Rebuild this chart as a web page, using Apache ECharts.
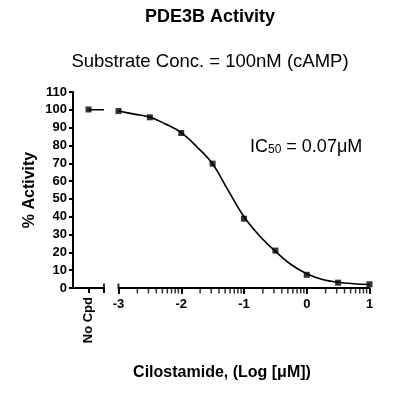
<!DOCTYPE html>
<html>
<head>
<meta charset="utf-8">
<script src="https://cdn.jsdelivr.net/npm/echarts@6/dist/echarts.min.js"></script>
<style>html,body{margin:0;padding:0;background:#fff}#c{width:408px;height:399px}</style>
</head>
<body>
<div id="c"></div>
<script>
// ---- data ----
const titleText = 'PDE3B Activity';
const subtitleText = 'Substrate Conc. = 100nM (cAMP)';
const yAxisTitle = '% Activity';
const xAxisTitle = 'Cilostamide, (Log [\u03bcM])';
const controlLabel = 'No Cpd';
const controlValue = 100.2;          // "No Cpd" point
const controlPlateau = 100;          // fitted curve plateau carried into the control segment
const logConc = [-3, -2.5, -2, -1.5, -1, -0.5, 0, 0.5, 1];
const activity = [99.3, 95.8, 87.0, 69.8, 38.9, 21.0, 7.4, 3.0, 2.1];
const curveX = [-3, -2.75, -2.5, -2.25, -2, -1.75, -1.5, -1.25, -1, -0.75, -0.5, -0.25, 0, 0.25, 0.5, 0.75, 1];
const curveY = [99.3, 97.6, 95.9, 92.0, 87.2, 79.2, 69.6, 54.6, 40.0, 29.2, 20.6, 13.2, 8.0, 4.8, 3.2, 2.4, 2.0];
const xTicks = [-3, -2, -1, 0, 1];
const yMax = 110, yStep = 10;
const minorMultipliers = [2, 3, 4, 5, 6, 7, 8, 9];

// ---- derived ----
const minorTicks = [];
for (let d = -3; d < 1; d++) for (const m of minorMultipliers) minorTicks.push(d + Math.log10(m));

const FONT = 'Arial, "Liberation Sans", sans-serif';
const chart = echarts.init(document.getElementById('c'), null, {renderer: 'canvas'});

const plotTop = 92, plotBottom = 111;
const lineStyle = {color: '#000', width: 2};

const option = {
  animation: false,
  backgroundColor: '#fff',
  title: [
    {text: titleText, left: 210, top: 8, textAlign: 'center', padding: 0,
     textStyle: {fontFamily: FONT, fontSize: 18, fontWeight: 'bold', color: '#000'}},
    {text: subtitleText, left: 210, top: 52, textAlign: 'center', padding: 0,
     textStyle: {fontFamily: FONT, fontSize: 18.5, fontWeight: 'normal', color: '#000'}},
    {text: xAxisTitle, left: 222, top: 365, textAlign: 'center', padding: 0,
     textStyle: {fontFamily: FONT, fontSize: 16, fontWeight: 'bold', color: '#000'}},
    {text: '{a|IC}{s|50}{a| = 0.07\u03bcM}', left: 250, top: 136, padding: 0,
     textStyle: {fontFamily: FONT, fontWeight: 'normal', color: '#000',
       rich: {
         a: {fontFamily: FONT, fontSize: 18, fontWeight: 'normal', lineHeight: 20, verticalAlign: 'bottom', color: '#000'},
         s: {fontFamily: FONT, fontSize: 12, fontWeight: 'normal', lineHeight: 10, verticalAlign: 'bottom', color: '#000'}
       }}}
  ],
  grid: [
    {left: 73, width: 31, top: plotTop, bottom: plotBottom},
    {left: 118.5, right: 38.5, top: plotTop, bottom: plotBottom}
  ],
  xAxis: [
    // control segment
    {gridIndex: 0, type: 'value', min: 0, max: 1, position: 'bottom',
     axisLine: {show: true, lineStyle: lineStyle},
     axisTick: {show: true, length: 5, customValues: [0.5, 1], lineStyle: lineStyle},
     axisLabel: {show: true, customValues: [0.5], formatter: () => controlLabel, rotate: 90, margin: 9,
       fontFamily: FONT, fontSize: 13, fontWeight: 'bold', color: '#000'},
     splitLine: {show: false}},
    // log concentration segment
    {gridIndex: 1, type: 'value', min: -3, max: 1, interval: 1, position: 'bottom',
     axisLine: {show: true, lineStyle: lineStyle},
     axisTick: {show: true, length: 6, customValues: xTicks, lineStyle: lineStyle},
     axisLabel: {show: true, customValues: xTicks, margin: 10,
       fontFamily: FONT, fontSize: 13, fontWeight: 'bold', color: '#000'},
     splitLine: {show: false}}
  ],
  yAxis: [
    {gridIndex: 0, type: 'value', min: 0, max: yMax, interval: yStep,
     name: yAxisTitle, nameLocation: 'middle', nameGap: 35, nameRotate: 90,
     nameTextStyle: {fontFamily: FONT, fontSize: 16, fontWeight: 'bold', color: '#000'},
     axisLine: {show: true, lineStyle: lineStyle},
     axisTick: {show: true, length: 4, lineStyle: lineStyle},
     axisLabel: {margin: 6, fontFamily: FONT, fontSize: 13, fontWeight: 'bold', color: '#000'},
     splitLine: {show: false}},
    {gridIndex: 1, type: 'value', min: 0, max: yMax, interval: yStep, show: false, splitLine: {show: false}}
  ],
  series: [
    // axis decorations: break caps poking above the axis line, log minor ticks below it
    {type: 'scatter', xAxisIndex: 0, yAxisIndex: 0, data: [[1, 0]], symbol: 'rect', symbolSize: [2, 5],
     symbolOffset: [0, -2], clip: false, silent: true, itemStyle: {color: '#000'}, z: 10},
    {type: 'scatter', xAxisIndex: 1, yAxisIndex: 1, data: [[xTicks[0], 0]], symbol: 'rect', symbolSize: [2, 5],
     symbolOffset: [0, -2], clip: false, silent: true, itemStyle: {color: '#000'}, z: 10},
    {type: 'scatter', xAxisIndex: 1, yAxisIndex: 1, data: minorTicks.map(v => [v, 0]), symbol: 'rect',
     symbolSize: [1.5, 5], symbolOffset: [0, 3], clip: false, silent: true, itemStyle: {color: '#000'}, z: 10},
    // data
    {type: 'line', xAxisIndex: 0, yAxisIndex: 0, data: [[0.5, controlPlateau], [1, controlPlateau]],
     showSymbol: false, symbol: 'none', lineStyle: {color: '#000', width: 1.6}, silent: true},
    {type: 'scatter', xAxisIndex: 0, yAxisIndex: 0, data: [[0.5, controlValue]],
     symbol: 'rect', symbolSize: 6, itemStyle: {color: '#000'}, z: 5},
    {type: 'line', xAxisIndex: 1, yAxisIndex: 1, data: curveX.map((x, i) => [x, curveY[i]]),
     smooth: 0.4, showSymbol: false, symbol: 'none', lineStyle: {color: '#000', width: 1.6}, silent: true},
    {type: 'scatter', xAxisIndex: 1, yAxisIndex: 1, data: logConc.map((x, i) => [x, activity[i]]),
     symbol: 'rect', symbolSize: 6, itemStyle: {color: '#000'}, z: 5}
  ]
};
chart.setOption(option);
</script>
</body>
</html>
